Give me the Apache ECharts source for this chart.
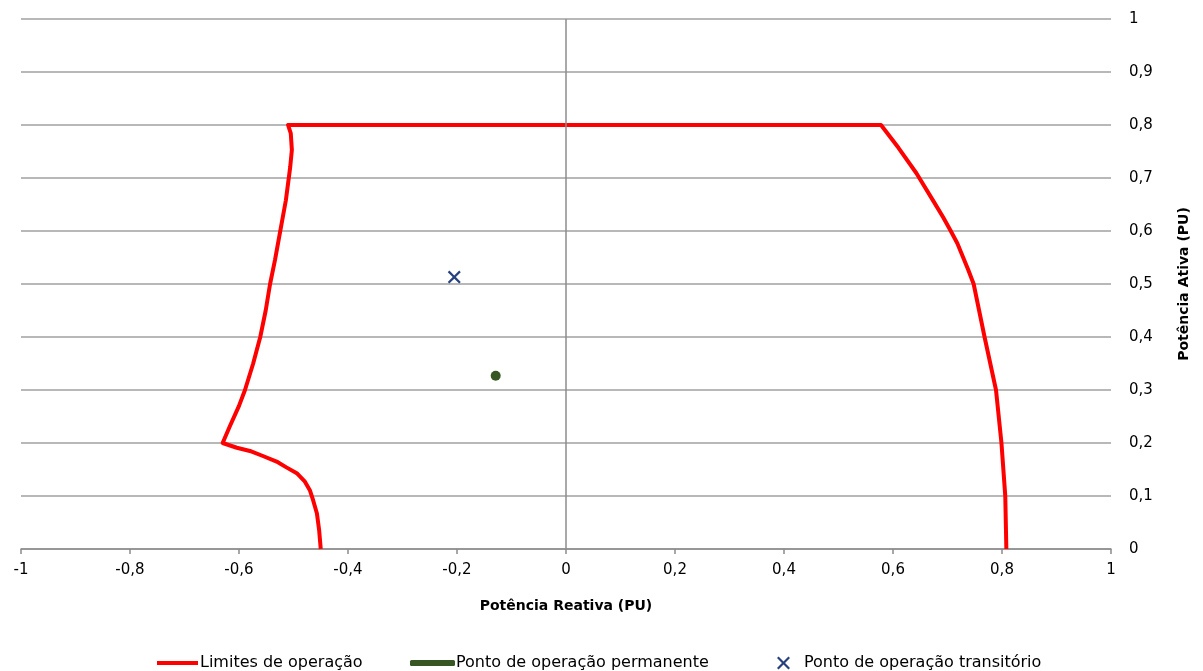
<!DOCTYPE html>
<html><head><meta charset="utf-8">
<script src="https://cdn.jsdelivr.net/npm/echarts@6/dist/echarts.min.js"></script>
<style>html,body{margin:0;padding:0;background:#fff}#c{width:1203px;height:671px}</style>
</head><body><div id="c"></div>
<script>
// Operating limits curve (Q, P) in PU, traced in drawing order
const limitQ = [-0.45,-0.453,-0.457,-0.464,-0.47,-0.479,-0.494,-0.513,-0.531,-0.555,-0.58,-0.604,-0.63,
  -0.617,-0.6,-0.589,-0.574,-0.561,-0.551,-0.543,-0.534,-0.525,-0.514,-0.506,-0.503,-0.505,-0.51,
  0.578,0.61,0.643,0.675,0.692,0.705,0.718,0.728,0.738,0.748,0.768,0.789,0.799,0.806,0.808];
const limitP = [0,0.036,0.067,0.092,0.111,0.127,0.143,0.154,0.165,0.175,0.185,0.191,0.2,
  0.231,0.27,0.3,0.35,0.4,0.45,0.5,0.545,0.596,0.658,0.721,0.753,0.784,0.8,
  0.8,0.757,0.709,0.655,0.626,0.602,0.577,0.552,0.527,0.5,0.4,0.3,0.2,0.1,0];
const permanentPoint = [[-0.129, 0.327]];
const transientPoint = [[-0.205, 0.513]];
const xTicks = {min: -1, max: 1, step: 0.2};
const yTicks = {min: 0, max: 1, step: 0.1};

const fmt = v => String(Math.round(v * 10) / 10).replace('.', ',');
const xPath = 'path://M0,1.2 L1.2,0 L5,3.8 L8.8,0 L10,1.2 L6.2,5 L10,8.8 L8.8,10 L5,6.2 L1.2,10 L0,8.8 L3.8,5 Z';
const font = 'DejaVu Sans';
const chart = echarts.init(document.getElementById('c'));
chart.setOption({
  animation: false,
  textStyle: {fontFamily: font},
  grid: {left: 21, right: 92, top: 19, bottom: 122},
  xAxis: {
    type: 'value', min: xTicks.min, max: xTicks.max, interval: xTicks.step,
    name: 'Potência Reativa (PU)', nameLocation: 'middle', nameGap: 50,
    nameTextStyle: {fontFamily: font, fontWeight: 'bold', fontSize: 14, color: '#000'},
    axisLine: {show: true, lineStyle: {color: '#8c8c8c', width: 1.5}},
    axisTick: {show: true, length: 5, lineStyle: {color: '#8c8c8c', width: 1.5}},
    axisLabel: {formatter: fmt, color: '#000', fontSize: 15, margin: 14, fontFamily: font},
    splitLine: {show: false}
  },
  yAxis: {
    type: 'value', position: 'right', min: yTicks.min, max: yTicks.max, interval: yTicks.step,
    name: 'Potência Ativa (PU)', nameLocation: 'middle', nameGap: 66, nameRotate: 90,
    nameTextStyle: {fontFamily: font, fontWeight: 'bold', fontSize: 14, color: '#000'},
    axisLine: {show: false}, axisTick: {show: false},
    axisLabel: {formatter: fmt, color: '#000', fontSize: 15, margin: 18, fontFamily: font},
    splitLine: {show: true, lineStyle: {color: '#a0a0a0', width: 1.5}}
  },
  legend: [
    {data: ['Limites de operação'], left: 152, top: 650, icon: 'rect', itemWidth: 41, itemHeight: 4, itemGap: 0,
     textStyle: {fontSize: 16, color: '#000', fontFamily: font, padding: [0,0,0,-3]}},
    {data: ['Ponto de operação permanente'], left: 405, top: 650, icon: 'roundRect', itemWidth: 45, itemHeight: 6,
     textStyle: {fontSize: 16, color: '#000', fontFamily: font, padding: [0,0,0,-4]}},
    {data: ['Ponto de operação transitório'], left: 772, top: 650, icon: xPath, itemWidth: 13, itemHeight: 13,
     textStyle: {fontSize: 16, color: '#000', fontFamily: font, padding: [0,0,0,9]}}
  ],
  series: [
    {
      name: 'Limites de operação', type: 'line', showSymbol: false, smooth: false,
      data: limitQ.map((q, i) => [q, limitP[i]]),
      lineStyle: {color: '#ff0000', width: 4, join: 'round'}, itemStyle: {color: '#ff0000'},
      markLine: {silent: true, symbol: 'none', label: {show: false},
        lineStyle: {color: '#8c8c8c', width: 1.5, type: 'solid'}, data: [{xAxis: 0}]},
      z: 3
    },
    {
      name: 'Ponto de operação permanente', type: 'scatter', symbol: 'circle', symbolSize: 10,
      data: permanentPoint, itemStyle: {color: '#375623', opacity: 1}, z: 4
    },
    {
      name: 'Ponto de operação transitório', type: 'scatter', symbol: xPath, symbolSize: 13,
      data: transientPoint, itemStyle: {color: '#27407f', opacity: 1}, z: 4
    }
  ]
});
</script></body></html>
